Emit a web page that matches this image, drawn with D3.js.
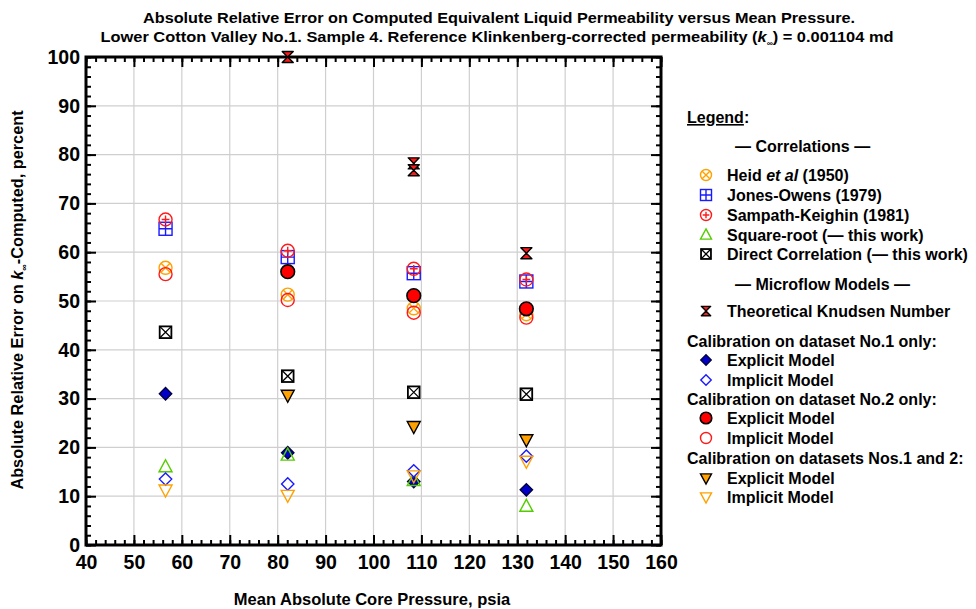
<!DOCTYPE html>
<html>
<head>
<meta charset="utf-8">
<script src="https://cdn.jsdelivr.net/npm/d3@7"></script>
<style>
  body { margin: 0; background: #fff; }
  svg { font-family: "Liberation Sans", Arial, sans-serif; font-weight: bold; }
</style>
</head>
<body>
<div id="chart"></div>
<script>
// mean pressure of each measurement, psia
var pressures = [56.6, 82.1, 108.4, 131.9];

// absolute relative error, percent (null = not on the chart)
var heid        = [56.8, 51.3, 48.5, 47.3];
var jonesOwens  = [64.8, 59.0, 55.7, 54.0];
var sampath     = [66.7, 60.3, 56.6, 54.4];
var squareRoot  = [16.0, 18.4, 13.2, 7.9];
var directCorr  = [43.6, 34.6, 31.3, 30.9];
var explicit1   = [31.0, 18.9, 13.0, 11.3];
var implicit1   = [13.5, 12.5, 15.2, 18.2];
var explicit2   = [null, 56.0, 51.1, 48.4];
var implicit2   = [55.5, 50.2, 47.6, 46.6];
var explicit12  = [null, 30.7, 24.3, 21.6];
var implicit12  = [11.3, 10.2, 14.2, 17.2];

// knudsen points (two overlap at the third pressure)
var knudsenP = [82.1, 108.4, 108.4, 131.9];
var knudsenE = [100, 78.2, 76.8, 59.8];

var xTicks = d3.range(40, 161, 10);
var yTicks = d3.range(0, 101, 10);

var W = 976, H = 609;
var margin = {left: 86, right: 315, top: 57, bottom: 64};
var pw = W - margin.left - margin.right;
var ph = H - margin.top - margin.bottom;

var svg = d3.select("#chart").append("svg")
  .attr("width", W).attr("height", H);

var x = d3.scaleLinear().domain([40, 160]).range([0, pw]);
var y = d3.scaleLinear().domain([0, 100]).range([ph, 0]);

var g = svg.append("g").attr("transform", "translate(" + margin.left + "," + margin.top + ")");

// grid
g.append("g").selectAll("line").data(xTicks.slice(1, -1)).enter().append("line")
  .attr("x1", d => x(d)).attr("x2", d => x(d)).attr("y1", 0).attr("y2", ph)
  .attr("stroke", "#cfcfcf").attr("stroke-width", 1.2);
g.append("g").selectAll("line").data(yTicks.slice(1, -1)).enter().append("line")
  .attr("y1", d => y(d)).attr("y2", d => y(d)).attr("x1", 0).attr("x2", pw)
  .attr("stroke", "#cfcfcf").attr("stroke-width", 1.2);

// axes: major + minor ticks, inward, on all four sides
function styleAxis(sel) {
  sel.select(".domain").remove();
  sel.selectAll(".tick line").attr("stroke", "#000").attr("stroke-width", 2);
  sel.selectAll(".tick text").attr("fill", "#000").style("font-size", "19.5px").style("font-weight", "bold");
}
var minorX = d3.range(40, 161, 2), minorY = d3.range(0, 101, 2);

g.append("g").attr("transform", "translate(0," + ph + ")")
  .call(d3.axisBottom(x).tickValues(minorX).tickSize(-5).tickFormat("")).call(styleAxis);
g.append("g").attr("transform", "translate(0," + ph + ")")
  .call(d3.axisBottom(x).tickValues(xTicks).tickSize(-10).tickPadding(10).tickFormat(d3.format("d"))).call(styleAxis);
g.append("g")
  .call(d3.axisTop(x).tickValues(minorX).tickSize(-5).tickFormat("")).call(styleAxis);
g.append("g")
  .call(d3.axisTop(x).tickValues(xTicks).tickSize(-10).tickFormat("")).call(styleAxis);
g.append("g")
  .call(d3.axisLeft(y).tickValues(minorY).tickSize(-5).tickFormat("")).call(styleAxis);
g.append("g")
  .call(d3.axisLeft(y).tickValues(yTicks).tickSize(-10).tickPadding(6).tickFormat(d3.format("d"))).call(styleAxis);
g.append("g").attr("transform", "translate(" + pw + ",0)")
  .call(d3.axisRight(y).tickValues(minorY).tickSize(-5).tickFormat("")).call(styleAxis);
g.append("g").attr("transform", "translate(" + pw + ",0)")
  .call(d3.axisRight(y).tickValues(yTicks).tickSize(-10).tickFormat("")).call(styleAxis);

g.append("rect").attr("width", pw).attr("height", ph)
  .attr("fill", "none").attr("stroke", "#000").attr("stroke-width", 3);

// marker drawing
var ORANGE = "#ffa100", BLUE = "#1a1aff", RED = "#ff1a1a", GREEN = "#55cc00", NAVY = "#0000c8";

function marker(sel, type, r) {
  var sw = 1.4;
  if (type == "heid") {
    sel.append("circle").attr("r", r).attr("fill", "#fff").attr("fill-opacity", 0).attr("stroke", ORANGE).attr("stroke-width", sw);
    var k = r * 0.7;
    sel.append("path").attr("d", "M" + (-k) + "," + (-k) + "L" + k + "," + k + "M" + k + "," + (-k) + "L" + (-k) + "," + k)
      .attr("stroke", ORANGE).attr("stroke-width", sw);
  } else if (type == "jones") {
    sel.append("rect").attr("x", -r).attr("y", -r).attr("width", 2 * r).attr("height", 2 * r)
      .attr("fill", "none").attr("stroke", BLUE).attr("stroke-width", sw);
    sel.append("path").attr("d", "M0," + (-r) + "V" + r + "M" + (-r) + ",0H" + r).attr("stroke", BLUE).attr("stroke-width", sw);
  } else if (type == "sampath") {
    sel.append("circle").attr("r", r).attr("fill", "none").attr("stroke", RED).attr("stroke-width", sw);
    var q = r * 0.6;
    sel.append("path").attr("d", "M0," + (-q) + "V" + q + "M" + (-q) + ",0H" + q).attr("stroke", RED).attr("stroke-width", sw);
  } else if (type == "sqrt") {
    sel.append("path").attr("d", "M0," + (-r * 1.1) + "L" + r + "," + (r * 0.75) + "L" + (-r) + "," + (r * 0.75) + "Z")
      .attr("fill", "none").attr("stroke", GREEN).attr("stroke-width", sw);
  } else if (type == "direct") {
    var s = r * 0.9;
    sel.append("rect").attr("x", -s).attr("y", -s).attr("width", 2 * s).attr("height", 2 * s)
      .attr("fill", "#fff").attr("stroke", "#000").attr("stroke-width", 1.8);
    sel.append("path").attr("d", "M" + (-s) + "," + (-s) + "L" + s + "," + s + "M" + s + "," + (-s) + "L" + (-s) + "," + s)
      .attr("stroke", "#000").attr("stroke-width", 1.3);
  } else if (type == "knudsen") {
    var h = r * 0.85;
    sel.append("path").attr("d", "M" + (-h) + "," + (-h) + "H" + h + "L0,0Z M0,0L" + h + "," + h + "H" + (-h) + "Z")
      .attr("fill", RED).attr("stroke", "#000").attr("stroke-width", 1.4).attr("stroke-linejoin", "round");
  } else if (type == "explicit1" || type == "implicit1") {
    var d = r * 0.95;
    sel.append("path").attr("d", "M0," + (-d) + "L" + d + ",0L0," + d + "L" + (-d) + ",0Z")
      .attr("fill", type == "explicit1" ? NAVY : "#fff")
      .attr("stroke", type == "explicit1" ? "#000040" : BLUE).attr("stroke-width", sw);
  } else if (type == "explicit2") {
    sel.append("circle").attr("r", r * 1.05).attr("fill", "#ff0000").attr("stroke", "#000").attr("stroke-width", 1.6);
  } else if (type == "implicit2") {
    sel.append("circle").attr("r", r).attr("fill", "none").attr("stroke", RED).attr("stroke-width", sw);
  } else if (type == "explicit12" || type == "implicit12") {
    sel.append("path").attr("d", "M" + (-r) + "," + (-r * 0.75) + "H" + r + "L0," + (r * 1.1) + "Z")
      .attr("fill", type == "explicit12" ? ORANGE : "none")
      .attr("stroke", type == "explicit12" ? "#000" : ORANGE).attr("stroke-width", sw);
  }
}

function plotSeries(type, xs, ys) {
  var pts = xs.map((p, i) => ({p: p, v: ys[i]})).filter(d => d.v != null);
  g.append("g").selectAll("g").data(pts).enter().append("g")
    .attr("transform", d => "translate(" + x(d.p) + "," + y(d.v) + ")")
    .each(function() { marker(d3.select(this), type, 6.5); });
}

plotSeries("explicit1", pressures, explicit1);
plotSeries("sqrt", pressures, squareRoot);
plotSeries("heid", pressures, heid);
plotSeries("implicit2", pressures, implicit2);
plotSeries("jones", pressures, jonesOwens);
plotSeries("sampath", pressures, sampath);
plotSeries("direct", pressures, directCorr);
plotSeries("knudsen", knudsenP, knudsenE);
plotSeries("explicit2", pressures, explicit2);
plotSeries("implicit1", pressures, implicit1);
plotSeries("explicit12", pressures, explicit12);
plotSeries("implicit12", pressures, implicit12);

// titles
var title = svg.append("g").attr("text-anchor", "middle").style("font-size", "15.5px");
title.append("text").attr("x", 499).attr("y", 23)
  .attr("textLength", 712).attr("lengthAdjust", "spacingAndGlyphs")
  .text("Absolute Relative Error on Computed Equivalent Liquid Permeability versus Mean Pressure.");
var t2 = title.append("text").attr("x", 497).attr("y", 42)
  .attr("textLength", 793).attr("lengthAdjust", "spacingAndGlyphs");
t2.append("tspan").text("Lower Cotton Valley No.1. Sample 4. Reference Klinkenberg-corrected permeability (");
t2.append("tspan").style("font-style", "italic").text("k");
t2.append("tspan").attr("dy", 4).style("font-size", "8px").text("\u221e");
t2.append("tspan").attr("dy", -4).text(") = 0.001104 md");

svg.append("text").attr("x", 372).attr("y", 605)
  .attr("text-anchor", "middle").style("font-size", "16.5px")
  .text("Mean Absolute Core Pressure, psia");

var yl = svg.append("text").attr("transform", "translate(23," + 300 + ") rotate(-90)")
  .attr("text-anchor", "middle").style("font-size", "16.3px");
yl.append("tspan").text("Absolute Relative Error on ");
yl.append("tspan").style("font-style", "italic").text("k");
yl.append("tspan").attr("dy", 4).style("font-size", "9px").text("\u221e");
yl.append("tspan").attr("dy", -4).text("-Computed, percent");

// legend
var leg = svg.append("g").style("font-size", "16px");
var legX = 687, mX = 706, tX = 727;
var lt = leg.append("text").attr("x", legX).attr("y", 123);
lt.append("tspan").style("text-decoration", "underline").text("Legend");
lt.append("tspan").text(":");
leg.append("text").attr("x", 735).attr("y", 152).text("\u2014 Correlations \u2014");
leg.append("text").attr("x", 735).attr("y", 290).text("\u2014 Microflow Models \u2014");

var legItems = [
  {type: "heid", y: 175, label: ["Heid ", "et al", " (1950)"]},
  {type: "jones", y: 195, label: ["Jones-Owens (1979)"]},
  {type: "sampath", y: 215, label: ["Sampath-Keighin (1981)"]},
  {type: "sqrt", y: 235, label: ["Square-root (\u2014 this work)"]},
  {type: "direct", y: 254, label: ["Direct Correlation (\u2014 this work)"]},
  {type: "knudsen", y: 311, label: ["Theoretical Knudsen Number"]},
  {type: "explicit1", y: 360, label: ["Explicit Model"]},
  {type: "implicit1", y: 380, label: ["Implicit Model"]},
  {type: "explicit2", y: 418, label: ["Explicit Model"]},
  {type: "implicit2", y: 438, label: ["Implicit Model"]},
  {type: "explicit12", y: 478, label: ["Explicit Model"]},
  {type: "implicit12", y: 497, label: ["Implicit Model"]}
];
var headers = [
  {y: 341, text: "Calibration on dataset No.1 only:"},
  {y: 399, text: "Calibration on dataset No.2 only:"},
  {y: 458, text: "Calibration on datasets Nos.1 and 2:"}
];
leg.selectAll("text.hdr").data(headers).enter().append("text").attr("class", "hdr")
  .attr("x", legX).attr("y", d => d.y + 6).text(d => d.text);

legItems.forEach(function(it) {
  var m = leg.append("g").attr("transform", "translate(" + mX + "," + it.y + ")");
  marker(m, it.type, 5.5);
  var t = leg.append("text").attr("x", tX).attr("y", it.y + 6);
  it.label.forEach(function(s, i) {
    t.append("tspan").style("font-style", i == 1 ? "italic" : null).text(s);
  });
});
</script>
</body>
</html>
